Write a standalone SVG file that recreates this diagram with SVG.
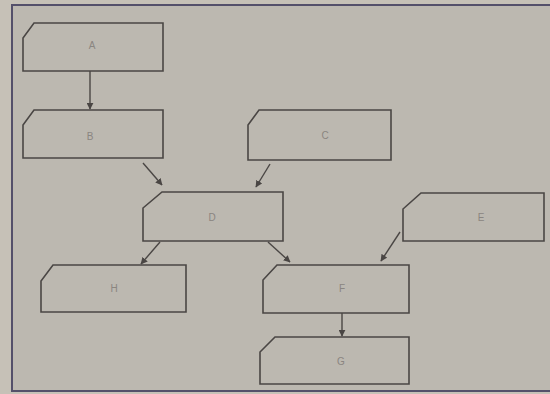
<svg xmlns="http://www.w3.org/2000/svg" width="550" height="394" viewBox="0 0 550 394">
<defs>
<style>
.n{fill:#bcb8b0;stroke:#4a4644;stroke-width:1.6}
.t{font-family:"Liberation Sans",Arial,sans-serif;font-size:10px;fill:#8a8580;text-anchor:middle;dominant-baseline:central}
.c{stroke:#4a4644;stroke-width:1.4;fill:none;marker-end:url(#ah)}
</style>
<marker id="ah" viewBox="0 0 10 10" refX="9" refY="5" markerWidth="7" markerHeight="7" markerUnits="userSpaceOnUse" orient="auto">
<path d="M0,0 L10,5 L0,10 z" fill="#4a4644"/>
</marker>
</defs>
<rect x="0" y="0" width="550" height="394" fill="#c6c1b7"/>
<rect x="12" y="5" width="540" height="386" fill="#bcb8b0"/>
<path d="M12,392 V5 H550" fill="none" stroke="#54506a" stroke-width="2"/>
<line x1="12" y1="391" x2="550" y2="391" stroke="#54506a" stroke-width="2"/>
<g id="connectors">
<line class="c" x1="90" y1="71" x2="90" y2="109"/>
<line class="c" x1="143" y1="163" x2="162" y2="185"/>
<line class="c" x1="270" y1="164" x2="256" y2="187"/>
<line class="c" x1="160" y1="242" x2="141" y2="264"/>
<line class="c" x1="268" y1="242" x2="290" y2="262"/>
<line class="c" x1="400" y1="232" x2="381" y2="261"/>
<line class="c" x1="342" y1="313" x2="342" y2="336"/>
</g>
<g id="A"><path class="n" d="M34,23 H163 V71 H23 V38 Z"/><text class="t" x="92" y="45">A</text></g>
<g id="B"><path class="n" d="M34,110 H163 V158 H23 V125 Z"/><text class="t" x="90" y="136">B</text></g>
<g id="C"><path class="n" d="M259,110 H391 V160 H248 V125 Z"/><text class="t" x="325" y="135">C</text></g>
<g id="D"><path class="n" d="M162,192 H283 V241 H143 V208 Z"/><text class="t" x="212" y="217">D</text></g>
<g id="E"><path class="n" d="M421,193 H544 V241 H403 V209 Z"/><text class="t" x="481" y="217">E</text></g>
<g id="H"><path class="n" d="M53,265 H186 V312 H41 V281 Z"/><text class="t" x="114" y="288">H</text></g>
<g id="F"><path class="n" d="M277,265 H409 V313 H263 V280 Z"/><text class="t" x="342" y="288">F</text></g>
<g id="G"><path class="n" d="M275,337 H409 V384 H260 V352 Z"/><text class="t" x="341" y="361">G</text></g>
</svg>
